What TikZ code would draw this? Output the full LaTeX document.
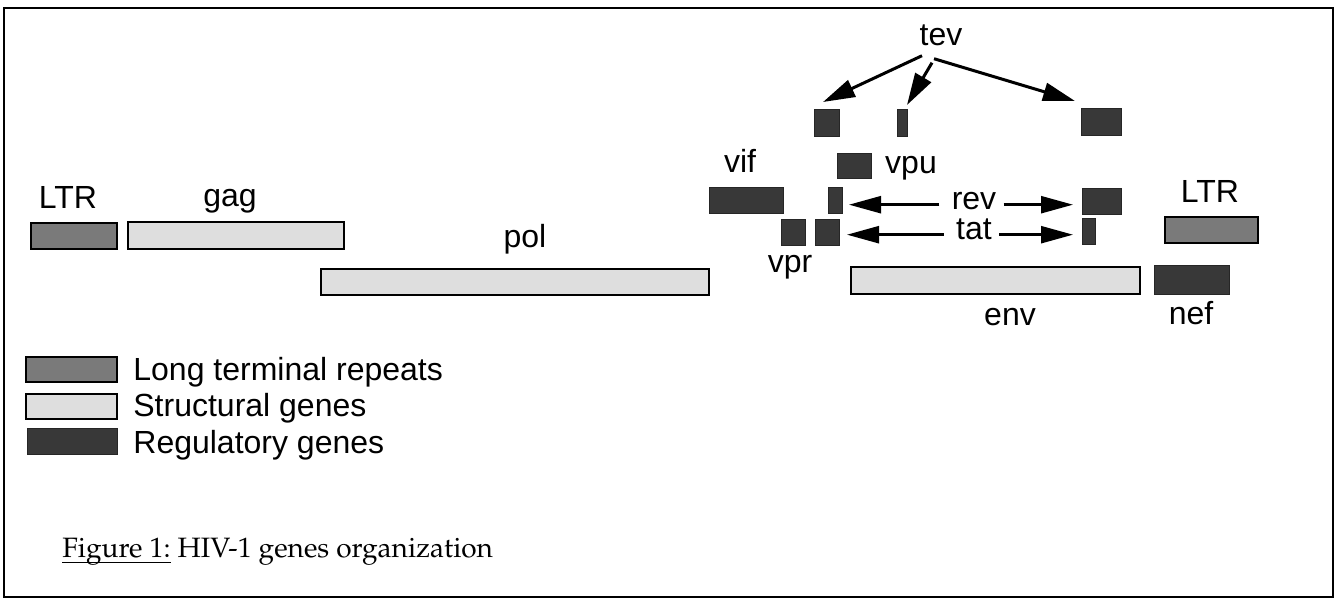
\documentclass[tikz,border=0pt]{standalone}
\usepackage{fontspec}
\newfontfamily\hv{Liberation Sans}
\usetikzlibrary{arrows.meta,fit,calc}
\newcommand\pal{\fontencoding{T1}\fontfamily{ppl}\selectfont}
\newcommand\ulfig[1]{\setbox0\hbox{#1}\rlap{\rule[-3.2pt]{\wd0}{0.75pt}}\box0\relax}
\begin{document}
\begin{tikzpicture}[x=0.5pt,y=-0.5pt,
  gene/.style={fit={#1},inner sep=0pt,outer sep=0pt},
  ltrbox/.style={draw=black,line width=1.4pt,fill=black!52},
  strbox/.style={draw=black,line width=1.1pt,fill=black!13},
  regbox/.style={draw=black!85,line width=0.4pt,fill=black!78},
  lab/.style={font=\hv\fontsize{16}{19}\selectfont,inner sep=0pt,anchor=base},
  leg/.style={font=\hv\fontsize{16}{19}\selectfont,inner sep=0pt,anchor=base west},
  tevarrow/.style={line width=1.5pt,-{Triangle[length=16pt,width=9pt]}},
  sidearrow/.style={line width=1.2pt,-{Triangle[length=16pt,width=8.5pt]}}]
\useasboundingbox (0,0) rectangle (1338,600);
\draw[line width=1.3pt] (4,8) rectangle (1333,597);
% genes
\node[gene={(31,223)(117,249)},ltrbox] (ltrL) {};
\node[gene={(128,222)(344,249)},strbox] (gag) {};
\node[gene={(321,269)(709,295)},strbox] (pol) {};
\node[gene={(709,187)(783,213)},regbox] (vif) {};
\node[gene={(781,219)(805,245)},regbox] (vpr) {};
\node[gene={(815,219)(839,245)},regbox] (tatL) {};
\node[gene={(828,187)(842,213)},regbox] (revL) {};
\node[gene={(837,153)(871,178)},regbox] (vpu) {};
\node[gene={(814,109)(839,136)},regbox] (tevL) {};
\node[gene={(897,109)(907,136)},regbox] (tevM) {};
\node[gene={(1081,108)(1121,135)},regbox] (tevR) {};
\node[gene={(1082,188)(1121,214)},regbox] (revR) {};
\node[gene={(1082,218)(1095,244)},regbox] (tatR) {};
\node[gene={(851,267)(1140,294)},strbox] (env) {};
\node[gene={(1165,217)(1258,243)},ltrbox] (ltrR) {};
\node[gene={(1154,265)(1229,294)},regbox] (nef) {};
% labels
\node[lab] (lLTRL) at (68,208) {LTR};
\node[lab] (lgag) at (230,206) {gag};
\node[lab] (lpol) at (525,247) {pol};
\node[lab] (lvif) at (740,172) {vif};
\node[lab] (lvpu) at (911,173) {vpu};
\node[lab] (rev) at (974,209) {rev};
\node[lab] (tat) at (974,239) {tat};
\node[lab] (lvpr) at (790,272) {vpr};
\node[lab] (lLTRR) at (1210,202) {LTR};
\node[lab] (lenv) at (1010,325) {env};
\node[lab] (lnef) at (1191,324) {nef};
\node[lab] (tev) at (941,45) {tev};
% tev arrows
\draw[tevarrow] ([shift={(-19,10)}]tev.south) -- ([shift={(9,-7)}]tevL.north west);
\draw[tevarrow] ([shift={(-9,17)}]tev.south) -- ([shift={(0,-4)}]tevM.north east);
\draw[tevarrow] ([shift={(-7,13)}]tev.south) -- ([shift={(-6,-7)}]tevR.north west);
% rev / tat arrows
\draw[sidearrow] ($(rev.mid west)+(-12,0)$) -- ($(revL.east |- rev.mid)+(7,0)$);
\draw[sidearrow] ($(rev.mid east)+(7,0)$) -- ($(revR.west |- rev.mid)+(-9,0)$);
\draw[sidearrow] ($(tat.mid west)+(-12,0)$) -- ($(tatL.east |- tat.mid)+(8,0)$);
\draw[sidearrow] ($(tat.mid east)+(7,0)$) -- ($(tatR.west |- tat.mid)+(-9,0)$);
% legend
\node[gene={(26,357)(117,382)},ltrbox] (legLTR) {};
\node[gene={(26,394)(117,419)},strbox] (legSTR) {};
\node[gene={(27,428)(117,454)},regbox] (legREG) {};
\node[leg] (tLTR) at (133,380) {Long terminal repeats};
\node[leg] (tSTR) at (133,416) {Structural genes};
\node[leg] (tREG) at (133,453) {Regulatory genes};
% caption
\node[inner sep=0pt,anchor=base west,font=\pal\fontsize{14}{17}\selectfont] (cap) at (62,557) {\ulfig{Figure 1:} HIV-1 genes organization};
\end{tikzpicture}
\end{document}
